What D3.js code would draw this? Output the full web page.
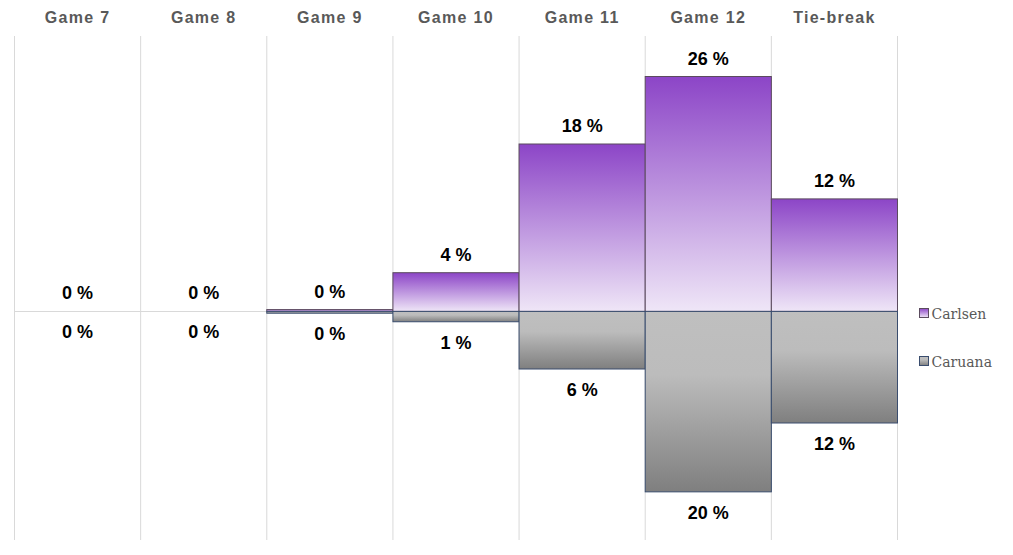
<!DOCTYPE html>
<html>
<head>
<meta charset="utf-8">
<script src="https://cdn.jsdelivr.net/npm/d3@7"></script>
<style>
  body { margin: 0; background: #fff; }
  svg { display: block; }
</style>
</head>
<body>
<svg id="chart"></svg>
<script>
// data
const games = ["Game 7", "Game 8", "Game 9", "Game 10", "Game 11", "Game 12", "Tie-break"];
const carlsen = [0, 0, 0.2, 4.3, 18.6, 26.1, 12.5];
const caruana = [0, 0, 0.2, 1.15, 6.4, 20.05, 12.4];
const seriesNames = ["Carlsen", "Caruana"];

const width = 1013, height = 555;
const plotLeft = 14.5, plotRight = 897.5, plotTop = 36, plotBottom = 540;

const svg = d3.select("#chart").attr("width", width).attr("height", height);

const defs = svg.append("defs");
const gPurple = defs.append("linearGradient").attr("id", "gPurple")
  .attr("x1", 0).attr("y1", 0).attr("x2", 0).attr("y2", 1);
gPurple.append("stop").attr("offset", "0%").attr("stop-color", "#8c45c7");
gPurple.append("stop").attr("offset", "100%").attr("stop-color", "#efe6f7");

const gGrey = defs.append("linearGradient").attr("id", "gGrey")
  .attr("x1", 0).attr("y1", 0).attr("x2", 0).attr("y2", 1);
gGrey.append("stop").attr("offset", "0%").attr("stop-color", "#bfbfbf");
gGrey.append("stop").attr("offset", "35%").attr("stop-color", "#bcbcbc");
gGrey.append("stop").attr("offset", "100%").attr("stop-color", "#7f7f7f");

const x = d3.scaleBand().domain(games).range([plotLeft, plotRight]).padding(0);
const y = d3.scaleLinear().domain([-25.4, 30.6]).range([plotBottom, plotTop]);

const rows = games.map((g, i) => ({ game: g, up: carlsen[i], down: caruana[i] }));

// vertical gridlines
svg.append("g").selectAll("line")
  .data(games.map(g => x(g)).concat([plotRight]))
  .enter().append("line")
  .attr("x1", d => d).attr("x2", d => d)
  .attr("y1", plotTop).attr("y2", plotBottom)
  .attr("stroke", "#d9d9d9").attr("stroke-width", 1);

// zero line
svg.append("line")
  .attr("x1", plotLeft).attr("x2", plotRight)
  .attr("y1", Math.round(y(0)) + 0.5).attr("y2", Math.round(y(0)) + 0.5)
  .attr("stroke", "#d9d9d9").attr("stroke-width", 1);

// category labels at top
svg.append("g").selectAll("text")
  .data(games)
  .enter().append("text")
  .attr("x", d => x(d) + x.bandwidth() / 2)
  .attr("y", 23)
  .attr("text-anchor", "middle")
  .style("font-family", "Liberation Sans, Arial, sans-serif")
  .style("font-weight", "bold")
  .style("font-size", "16px")
  .style("letter-spacing", "1.3px")
  .attr("fill", "#595959")
  .text(d => d);

// Carlsen bars (up)
svg.append("g").selectAll("rect")
  .data(rows.filter(d => d.up > 0))
  .enter().append("rect")
  .attr("x", d => x(d.game))
  .attr("y", d => y(d.up))
  .attr("width", x.bandwidth())
  .attr("height", d => y(0) - y(d.up))
  .attr("fill", "url(#gPurple)")
  .attr("stroke", "#5b4b5e")
  .attr("stroke-width", 1);

// Caruana bars (down)
svg.append("g").selectAll("rect")
  .data(rows.filter(d => d.down > 0))
  .enter().append("rect")
  .attr("x", d => x(d.game))
  .attr("y", y(0))
  .attr("width", x.bandwidth())
  .attr("height", d => y(-d.down) - y(0))
  .attr("fill", "url(#gGrey)")
  .attr("stroke", "#3a4d6e")
  .attr("stroke-width", 1);

const labelStyle = sel => sel
  .attr("text-anchor", "middle")
  .style("font-family", "Liberation Sans, Arial, sans-serif")
  .style("font-weight", "bold")
  .style("font-size", "18px")
  .attr("fill", "#000");

// value labels
svg.append("g").selectAll("text")
  .data(rows)
  .enter().append("text")
  .attr("x", d => x(d.game) + x.bandwidth() / 2)
  .attr("y", d => y(d.up) - 12)
  .call(labelStyle)
  .text(d => Math.floor(d.up) + " %");

svg.append("g").selectAll("text")
  .data(rows)
  .enter().append("text")
  .attr("x", d => x(d.game) + x.bandwidth() / 2)
  .attr("y", d => y(-d.down) + 27)
  .call(labelStyle)
  .text(d => Math.floor(d.down) + " %");

// legend
const legend = svg.append("g").selectAll("g")
  .data(seriesNames)
  .enter().append("g")
  .attr("transform", (d, i) => "translate(919.5," + (308.5 + i * 48) + ")");
legend.append("rect")
  .attr("width", 9).attr("height", 9)
  .attr("fill", (d, i) => i === 0 ? "url(#gPurple)" : "url(#gGrey)")
  .attr("stroke", (d, i) => i === 0 ? "#5b4b5e" : "#3a4d6e");
legend.append("text")
  .attr("x", 12).attr("y", 10)
  .style("font-family", "DejaVu Serif, serif")
  .style("font-size", "14px")
  .attr("fill", "#595959")
  .text(d => d);
</script>
</body>
</html>
